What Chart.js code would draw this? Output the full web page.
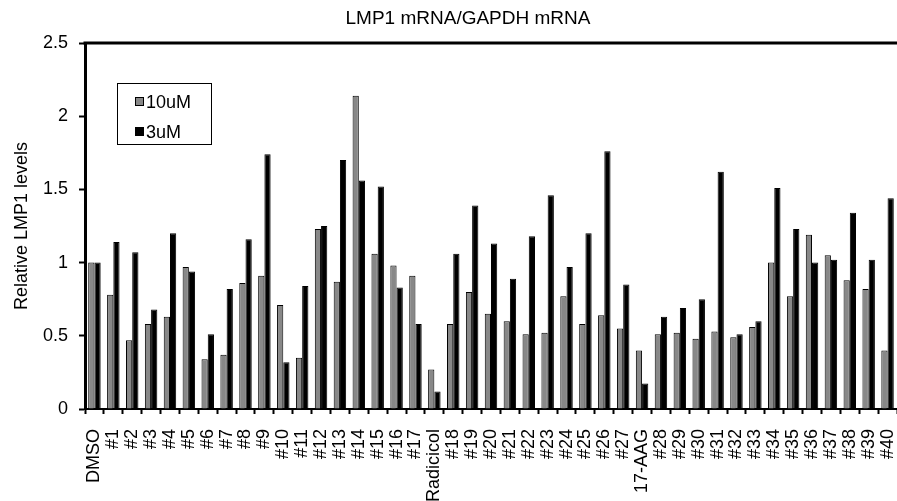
<!DOCTYPE html>
<html>
<head>
<meta charset="utf-8">
<title>LMP1 mRNA/GAPDH mRNA</title>
<script src="https://cdn.jsdelivr.net/npm/chart.js@4.4.1/dist/chart.umd.min.js"></script>
<style>
    html, body { margin: 0; padding: 0; background: #fff; }
    #wrap { width: 897px; height: 501px; }
</style>
</head>
<body>
<div id="wrap"><canvas id="lmpChart"></canvas></div>
<script>
// values
const categories = ['DMSO', '#1', '#2', '#3', '#4', '#5', '#6', '#7', '#8', '#9', '#10',
    '#11', '#12', '#13', '#14', '#15', '#16', '#17', 'Radicicol', '#18', '#19', '#20',
    '#21', '#22', '#23', '#24', '#25', '#26', '#27', '17-AAG', '#28', '#29', '#30',
    '#31', '#32', '#33', '#34', '#35', '#36', '#37', '#38', '#39', '#40'];

const values10uM = [1.00, 0.78, 0.47, 0.58, 0.63, 0.97, 0.34, 0.37, 0.86, 0.91, 0.71,
    0.35, 1.23, 0.87, 2.14, 1.06, 0.98, 0.91, 0.27, 0.58, 0.80, 0.65,
    0.60, 0.51, 0.52, 0.77, 0.58, 0.64, 0.55, 0.40, 0.51, 0.52, 0.48,
    0.53, 0.49, 0.56, 1.00, 0.77, 1.19, 1.05, 0.88, 0.82, 0.40];

const values3uM = [1.00, 1.14, 1.07, 0.68, 1.20, 0.94, 0.51, 0.82, 1.16, 1.74, 0.32,
    0.84, 1.25, 1.70, 1.56, 1.52, 0.83, 0.58, 0.12, 1.06, 1.39, 1.13,
    0.89, 1.18, 1.46, 0.97, 1.20, 1.76, 0.85, 0.175, 0.63, 0.69, 0.75,
    1.62, 0.51, 0.60, 1.51, 1.23, 1.00, 1.02, 1.34, 1.02, 1.44];

const yTicks = [0, 0.5, 1, 1.5, 2, 2.5];
const yTickLabels = ['0', '0.5', '1', '1.5', '2', '2.5'];

const chartTitle = 'LMP1 mRNA/GAPDH mRNA';
const yTitle = 'Relative LMP1 levels';
const FONT = 'Liberation Sans, Arial, sans-serif';

/**
 * Title, top frame line and the boxed legend inside the plot
 */
const decorPlugin = {
    id: 'decor',
    afterDraw(chart) {
        const { ctx, chartArea } = chart;
        ctx.save();

        // title
        ctx.fillStyle = '#000';
        ctx.font = '19px ' + FONT;
        ctx.textAlign = 'center';
        ctx.textBaseline = 'middle';
        ctx.fillText(chartTitle, 468, 19);

        // thick top line
        ctx.strokeStyle = '#000';
        ctx.lineWidth = 3;
        ctx.beginPath();
        ctx.moveTo(chartArea.left - 1.5, chartArea.top);
        ctx.lineTo(chartArea.right, chartArea.top);
        ctx.stroke();

        // legend box
        ctx.fillStyle = '#fff';
        ctx.fillRect(117, 83, 94, 61);
        ctx.lineWidth = 1;
        ctx.strokeRect(117.5, 83.5, 94, 61);

        chart.data.datasets.forEach((ds, i) => {
            const y = 102 + i * 30;
            ctx.fillStyle = ds.backgroundColor;
            ctx.fillRect(135, y - 5, 9, 9);
            ctx.strokeStyle = '#000';
            ctx.strokeRect(135.5, y - 4.5, 8, 8);
            ctx.fillStyle = '#000';
            ctx.font = '18px ' + FONT;
            ctx.textAlign = 'left';
            ctx.fillText(ds.label, 146, y + 1);
        });

        ctx.restore();
    }
};

const ctx = document.getElementById('lmpChart');

new Chart(ctx, {
    type: 'bar',
    data: {
        labels: categories,
        datasets: [
            {
                label: '10uM',
                data: values10uM,
                backgroundColor: '#888888',
                borderColor: '#000000',
                borderWidth: 1
            },
            {
                label: '3uM',
                data: values3uM,
                backgroundColor: '#000000',
                borderColor: '#000000',
                borderWidth: 1
            }
        ]
    },
    options: {
        responsive: true,
        maintainAspectRatio: false,
        animation: false,
        devicePixelRatio: 1,
        categoryPercentage: 0.66,
        barPercentage: 1.0,
        layout: {
            padding: { top: 43, left: 0, right: 0, bottom: 0 }
        },
        plugins: {
            legend: { display: false },
            title: { display: false },
            tooltip: { enabled: false }
        },
        scales: {
            x: {
                offset: true,
                grid: {
                    offset: true,
                    drawOnChartArea: false,
                    drawTicks: true,
                    tickLength: 5,
                    tickWidth: 2,
                    tickColor: '#000'
                },
                border: { display: true, color: '#000', width: 2 },
                ticks: {
                    color: '#000',
                    font: { family: FONT, size: 18 },
                    minRotation: 90,
                    maxRotation: 90,
                    autoSkip: false,
                    padding: 15
                },
                afterFit(scale) {
                    scale.height = 92;
                    scale.paddingLeft = 0;
                    scale.paddingRight = 0;
                }
            },
            y: {
                min: 0,
                max: 2.5,
                grid: {
                    drawOnChartArea: false,
                    drawTicks: true,
                    tickLength: 6,
                    tickWidth: 2,
                    tickColor: '#000'
                },
                border: { display: true, color: '#000', width: 3 },
                ticks: {
                    color: '#000',
                    font: { family: FONT, size: 18 },
                    padding: 11,
                    callback: function (value) {
                        const i = yTicks.indexOf(value);
                        return i >= 0 ? yTickLabels[i] : '';
                    }
                },
                afterBuildTicks(scale) {
                    scale.ticks = yTicks.map(v => ({ value: v }));
                },
                title: {
                    display: true,
                    text: yTitle,
                    color: '#000',
                    font: { family: FONT, size: 18 },
                    padding: { top: 11, bottom: 0 }
                },
                afterFit(scale) {
                    scale.width = 85;
                    scale.paddingTop = 0;
                    scale.paddingBottom = 0;
                }
            }
        }
    },
    plugins: [decorPlugin]
});
</script>
</body>
</html>
